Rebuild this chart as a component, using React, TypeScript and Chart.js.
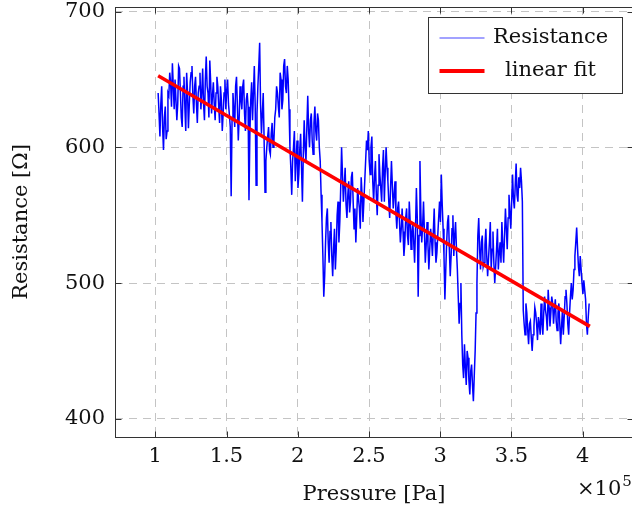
import { useEffect, useRef } from "react";
import { Chart, registerables } from "chart.js";

Chart.register(...registerables);

// Pressure axis in units of 10^5 Pa; samples are evenly spaced
const pressureStart = 1.02;
const pressureStep = 0.00625;

const resistance = [
  640, 625, 608, 632, 645, 615, 598, 622, 630, 606, 612, 640, 638, 655,
  648, 630, 662, 645, 628, 650, 650, 620, 632, 660, 658, 640, 622, 615, 645, 652,
  630, 612, 655, 640, 614, 632, 648, 655, 660, 638, 625, 645, 652, 632, 618, 640,
  645, 655, 628, 640, 658, 632, 620, 650, 667, 645, 640, 622, 664, 648, 625, 638,
  648, 632, 620, 640, 652, 645, 630, 618, 645, 635, 612, 625, 640, 650, 628, 642,
  650, 632, 624, 615, 564, 620, 640, 628, 615, 645, 652, 630, 605, 622, 645, 635,
  628, 645, 650, 625, 612, 635, 640, 630, 561, 610, 635, 648, 620, 640, 660, 630,
  572, 625, 645, 660, 677, 632, 610, 625, 640, 605, 567, 590, 600, 608, 615, 598,
  595, 610, 618, 600, 605, 622, 628, 645, 640, 630, 622, 655, 650, 628, 635, 660,
  665, 645, 640, 660, 650, 628, 600, 585, 565, 590, 600, 612, 575, 592, 605, 570,
  580, 598, 610, 585, 560, 595, 620, 600, 590, 615, 638, 612, 600, 620, 625, 605,
  595, 618, 630, 612, 605, 625, 620, 600, 590, 565, 545, 520, 490, 505, 530, 548,
  555, 530, 515, 538, 545, 520, 505, 525, 540, 510, 525, 550, 560, 530, 545, 570,
  600, 580, 560, 572, 585, 558, 548, 565, 575, 552, 560, 578, 582, 560, 540, 555,
  530, 548, 570, 562, 555, 540, 578, 565, 545, 560, 575, 590, 605, 598, 612, 590,
  580, 600, 608, 575, 560, 578, 590, 565, 550, 572, 595, 580, 570, 560, 585, 598,
  560, 582, 600, 585, 575, 560, 548, 570, 590, 572, 555, 565, 575, 552, 540, 555,
  560, 545, 530, 540, 555, 538, 520, 530, 548, 555, 535, 528, 560, 545, 525, 538,
  545, 530, 515, 540, 570, 548, 490, 535, 590, 552, 530, 542, 560, 538, 515, 528,
  545, 528, 510, 525, 540, 532, 520, 538, 555, 530, 515, 522, 535, 548, 560, 545,
  580, 558, 540, 520, 488, 510, 530, 545, 550, 525, 505, 520, 540, 550, 520, 535,
  545, 525, 510, 490, 470, 485, 500, 462, 440, 430, 455, 438, 425, 450, 445, 428,
  418, 435, 440, 425, 413, 432, 450, 478, 500, 535, 548, 525, 510, 530, 535, 512,
  515, 528, 540, 520, 505, 518, 530, 545, 510, 525, 538, 515, 500, 512, 525, 540,
  510, 522, 530, 515, 545, 528, 515, 535, 555, 540, 525, 548, 565, 552, 540, 560,
  580, 562, 555, 572, 588, 565, 560, 578, 570, 585, 575, 560, 480, 470, 462, 485,
  478, 465, 455, 470, 472, 460, 450, 462, 468, 482, 478, 470, 458, 475, 470, 462,
  485, 470, 462, 478, 490, 480, 475, 465, 495, 482, 468, 478, 490, 485, 470, 480,
  488, 472, 465, 478, 485, 470, 455, 468, 480, 462, 475, 490, 495, 485, 470, 462,
  478, 490, 500, 488, 495, 510, 520, 530, 541, 525, 512, 505, 520, 510, 500, 492,
  502, 495, 488, 470, 462, 475, 485,
];

const fitPressure = [1.02, 4.05];
const fitResistance = [652.8, 468.1];

const xTicks = [1, 1.5, 2, 2.5, 3, 3.5, 4];
const yTicks = [400, 500, 600, 700];

const seriesLabels = ["Resistance", "linear fit"];
const seriesColors = ["rgb(0,0,255)", "rgb(255,0,0)"];

const FONT = "'DejaVu Serif', serif";
const TEXT = "#111";
const AXIS = "#333";

const decorPlugin = {
  id: "decor",
  afterDraw(chart: any) {
    const { ctx, chartArea: a, scales } = chart;
    const xs = scales.x;
    const ys = scales.y;
    ctx.save();
    ctx.strokeStyle = AXIS;
    ctx.lineWidth = 1;
    const seg = (x1: number, y1: number, x2: number, y2: number) => {
      ctx.beginPath();
      ctx.moveTo(x1, y1);
      ctx.lineTo(x2, y2);
      ctx.stroke();
    };
    const L = Math.round(a.left) + 0.5;
    const R = Math.round(a.right) + 0.5;
    const T = Math.round(a.top) + 0.5;
    const B = Math.round(a.bottom) + 0.5;
    for (const v of xTicks) {
      const px = Math.round(xs.getPixelForValue(v)) + 0.5;
      seg(px, B, px, B - 6);
      seg(px, T, px, T + 6);
    }
    for (const v of yTicks) {
      const py = Math.round(ys.getPixelForValue(v)) + 0.5;
      seg(L, py, L + 6, py);
      seg(R, py, R - 6, py);
    }
    ctx.strokeRect(L, T, R - L, B - T);

    // legend
    const bw = 194;
    const bh = 76;
    const bx = Math.round(a.right) - 10.5 - bw;
    const by = Math.round(a.top) + 10.5;
    ctx.fillStyle = "#fff";
    ctx.fillRect(bx, by, bw, bh);
    ctx.strokeStyle = AXIS;
    ctx.lineWidth = 1;
    ctx.strokeRect(bx, by, bw, bh);
    const ds = chart.data.datasets;
    [ds[0], ds[1]].forEach((d: any, i: number) => {
      const cy = by + 20.5 + i * 33;
      ctx.strokeStyle = i === 0 ? "rgb(70,70,255)" : d.borderColor;
      ctx.lineWidth = i === 0 ? 1.2 : 4;
      seg(bx + 11, cy, bx + 56, cy);
      ctx.fillStyle = TEXT;
      ctx.font = `21px ${FONT}`;
      ctx.textAlign = "center";
      ctx.textBaseline = "middle";
      ctx.fillText(d.label, bx + 122, cy);
    });

    // ×10^5 multiplier
    ctx.fillStyle = TEXT;
    ctx.textAlign = "left";
    ctx.textBaseline = "alphabetic";
    ctx.font = `21px ${FONT}`;
    ctx.fillText("×10", 577, 495);
    const w = ctx.measureText("×10").width;
    ctx.font = `15px ${FONT}`;
    ctx.fillText("5", 577 + w + 1, 486);
    ctx.restore();
  },
};

export default function App() {
  const ref = useRef<HTMLCanvasElement | null>(null);

  useEffect(() => {
    document.body.style.margin = "0";
    document.body.style.overflow = "hidden";
    document.documentElement.style.overflow = "hidden";
    const canvas = ref.current;
    if (!canvas) return;

    const resData = resistance.map((r, i) => ({
      x: pressureStart + i * pressureStep,
      y: r,
    }));
    const fitData = fitPressure.map((p, i) => ({ x: p, y: fitResistance[i] }));

    const chart = new Chart(canvas, {
      type: "line",
      data: {
        datasets: [
          {
            label: seriesLabels[0],
            data: resData,
            borderColor: seriesColors[0],
            borderWidth: 1.5,
            pointRadius: 0,
            tension: 0,
            order: 1,
          },
          {
            label: seriesLabels[1],
            data: fitData,
            borderColor: seriesColors[1],
            borderWidth: 3.5,
            pointRadius: 0,
            order: 0,
          },
        ],
      },
      options: {
        responsive: false,
        animation: false,
        events: [],
        layout: {
          autoPadding: false,
          padding: { left: 0, top: 7, right: 7, bottom: 0 },
        },
        plugins: {
          legend: { display: false },
          tooltip: { enabled: false },
        },
        scales: {
          x: {
            type: "linear",
            min: 0.7172,
            max: 4.3528,
            afterFit: (s: any) => {
              s.height = 77;
              s.paddingLeft = 0;
              s.paddingRight = 0;
              s.paddingTop = 0;
              s.paddingBottom = 0;
            },
            afterBuildTicks: (s: any) => {
              s.ticks = xTicks.map((v) => ({ value: v }));
            },
            ticks: {
              color: TEXT,
              font: { family: FONT, size: 21 },
              padding: 7,
              maxRotation: 0,
              autoSkip: false,
              callback: (v: any) => String(v),
            },
            grid: {
              color: "#c4c4c4",
              lineWidth: 1,
              drawTicks: false,
            },
            border: { display: false, dash: [8, 6] },
            title: {
              display: true,
              text: "Pressure [Pa]",
              color: TEXT,
              font: { family: FONT, size: 21 },
              padding: { top: 0, bottom: 7 },
            },
          },
          y: {
            type: "linear",
            min: 386.6,
            max: 703.4,
            afterFit: (s: any) => {
              s.width = 115;
              s.paddingLeft = 0;
              s.paddingRight = 0;
              s.paddingTop = 0;
              s.paddingBottom = 0;
            },
            afterBuildTicks: (s: any) => {
              s.ticks = yTicks.map((v) => ({ value: v }));
            },
            ticks: {
              color: TEXT,
              font: { family: FONT, size: 21 },
              padding: 10,
              autoSkip: false,
              callback: (v: any) => String(v),
            },
            grid: {
              color: "#c4c4c4",
              lineWidth: 1,
              drawTicks: false,
            },
            border: { display: false, dash: [8, 6] },
            title: {
              display: true,
              text: "Resistance [Ω]",
              color: TEXT,
              font: { family: FONT, size: 21 },
              padding: { top: 9, bottom: 0 },
            },
          },
        },
      },
      plugins: [decorPlugin],
    });

    return () => chart.destroy();
  }, []);

  return (
    <div style={{ position: "fixed", left: 0, top: 0, width: 640, height: 514 }}>
      <canvas ref={ref} width={640} height={514} style={{ width: 640, height: 514 }} />
    </div>
  );
}
